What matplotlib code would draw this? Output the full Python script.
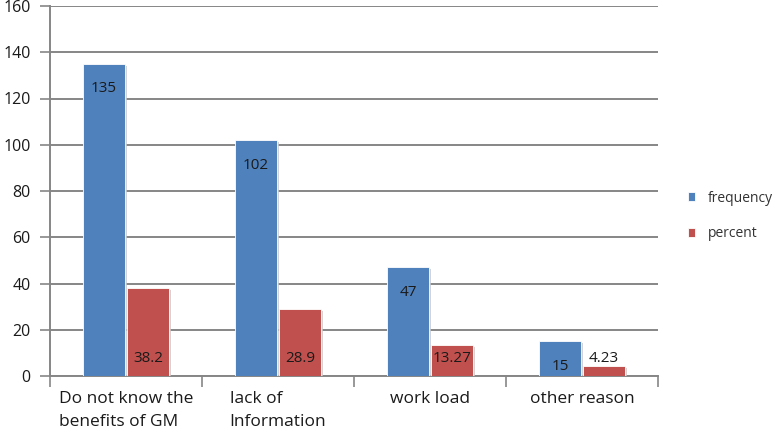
import matplotlib
matplotlib.use("Agg")
import matplotlib.pyplot as plt
import matplotlib.patheffects as pe
import numpy as np

categories = ["Do not know the\nbenefits of GM", "lack of\nInformation", "work load", "other reason"]
frequency = [135, 102, 47, 15]
percent = [38.2, 28.9, 13.27, 4.23]
freq_labels = ["135", "102", "47", "15"]
pct_labels = ["38.2", "28.9", "13.27", "4.23"]
yticks = [0, 20, 40, 60, 80, 100, 120, 140, 160]

plt.rcParams['font.family'] = ['Open Sans', 'DejaVu Sans']

fig = plt.figure(figsize=(7.75, 4.34), dpi=100)
ax = fig.add_axes([50/775, 58/434, 608/775, 370/434])

x = np.arange(len(categories))
w = 0.28
blue = "#4F81BD"
red = "#C0504D"
grid_c = "#868686"
shadow = [pe.SimplePatchShadow(offset=(1.5, -1.5), shadow_rgbFace="#c8c8c8", alpha=0.8), pe.Normal()]

b1 = ax.bar(x - w/2 - 0.005, frequency, w, color=blue, zorder=3, label="frequency",
            edgecolor="white", linewidth=0.6)
b2 = ax.bar(x + w/2 + 0.005, percent, w, color=red, zorder=3, label="percent",
            edgecolor="white", linewidth=0.6)
for b in list(b1) + list(b2):
    b.set_path_effects(shadow)

for rect, lab in zip(b1, freq_labels):
    ax.annotate(lab, (rect.get_x() + rect.get_width()/2, rect.get_height()),
                xytext=(0, -25), textcoords="offset pixels", ha="center", va="center",
                fontsize=11, color="#1a1a1a", zorder=5)
for rect, lab in zip(b2, pct_labels):
    ax.annotate(lab, (rect.get_x() + rect.get_width()/2, 0),
                xytext=(0, 18), textcoords="offset pixels", ha="center", va="center",
                fontsize=11, color="#1a1a1a", zorder=5)

ax.set_xlim(-0.5, len(categories) - 0.5)
ax.set_ylim(0, 160)
ax.set_yticks(yticks)
ax.set_yticklabels([str(v) for v in yticks], fontsize=11.5, color="#1a1a1a")
ax.yaxis.grid(True, color=grid_c, linewidth=1.4, zorder=0)
ax.set_axisbelow(True)

ax.set_xticks(x)
ax.set_xticklabels(categories, fontsize=12.5, color="#1a1a1a", multialignment="left",
                   va="top", linespacing=1.6)
ax.tick_params(axis="x", length=0, pad=11)
ax.set_xticks(np.arange(-0.5, len(categories)), minor=True)
ax.tick_params(axis="x", which="minor", length=8, color=grid_c, width=1.2)
ax.tick_params(axis="y", length=7, color=grid_c, width=1.2, pad=7)

for s in ["top", "right"]:
    ax.spines[s].set_visible(False)
for s in ["left", "bottom"]:
    ax.spines[s].set_color(grid_c)
    ax.spines[s].set_linewidth(1.4)

leg = fig.legend(handles=[b1, b2], labels=["frequency", "percent"],
                 loc="center left", bbox_to_anchor=(675/775, 1 - 216/434),
                 frameon=False, fontsize=10, handlelength=0.55, handleheight=0.55,
                 labelspacing=1.5, handletextpad=0.9)
for h in leg.legend_handles:
    h.set_path_effects([])
for t in leg.get_texts():
    t.set_color("#333333")

fig.savefig("out.png", dpi=100)
